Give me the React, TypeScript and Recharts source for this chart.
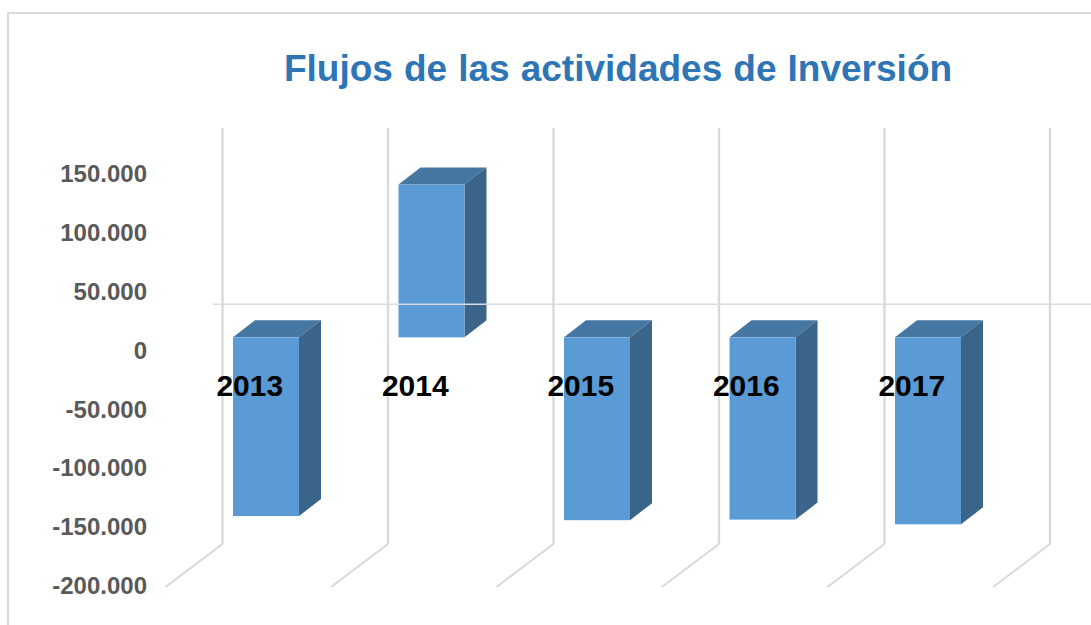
import React from 'react';
import { BarChart, Bar, XAxis, YAxis, CartesianGrid, ReferenceLine } from 'recharts';

const YEARS = ['2013', '2014', '2015', '2016', '2017'];
const FLOWS = [-152000, 130000, -155500, -155000, -159000];
const Y_TICKS = [150000, 100000, 50000, 0, -50000, -100000, -150000, -200000];
const TITLE = 'Flujos de las actividades de Inversión';

const data = YEARS.map((year, i) => ({ year, flow: FLOWS[i] }));

const FONT = '"Liberation Sans", Arial, sans-serif';
const DEPTH_X = 22;
const DEPTH_Y = 17;

const formatThousands = (v: number) => String(v).replace(/\B(?=(\d{3})+$)/g, '.');

// 3D column: front face comes from the scale, top and side are offset by the depth
const Column3D = (props: any) => {
  const { x, y, width, height } = props;
  const top = Math.min(y, y + height);
  const h = Math.abs(height);
  const right = x + width;
  const bottom = top + h;
  return (
    <g>
      <polygon
        points={`${x},${top} ${x + DEPTH_X},${top - DEPTH_Y} ${right + DEPTH_X},${top - DEPTH_Y} ${right},${top}`}
        fill="#4676a2"
      />
      <polygon
        points={`${right},${top} ${right + DEPTH_X},${top - DEPTH_Y} ${right + DEPTH_X},${bottom - DEPTH_Y} ${right},${bottom}`}
        fill="#3a6489"
      />
      <rect x={x} y={top} width={width} height={h} fill="#5b9bd5" />
    </g>
  );
};

const YTick = (props: any) => (
  <text
    x={147}
    y={props.y + 13}
    dy="0.35em"
    textAnchor="end"
    fontFamily={FONT}
    fontWeight="bold"
    fontSize={24}
    fill="#595959"
  >
    {formatThousands(props.payload.value)}
  </text>
);

const XTick = (props: any) => (
  <text
    x={props.x - 16}
    y={props.y - 195}
    dy="0.35em"
    textAnchor="middle"
    fontFamily={FONT}
    fontWeight="bold"
    fontSize={30}
    fill="#000000"
  >
    {props.payload.value}
  </text>
);

// back wall line with the floor diagonal running to the front
const WallLine = (props: any) => {
  const { x1 } = props;
  return (
    <g fill="none" stroke="#d9d9d9" strokeWidth={2.4}>
      <line x1={x1} y1={128} x2={x1} y2={544} />
      <line x1={x1} y1={544} x2={x1 - 57} y2={587} strokeWidth={2} />
    </g>
  );
};

const ZeroLine = (props: any) => (
  <line x1={213} y1={props.y1 - 33} x2={1091} y2={props.y1 - 33} stroke="#d6dce5" strokeWidth={1.5} />
);

export default function App() {
  return (
    <div style={{ position: 'absolute', left: 0, top: 0, width: 1091, height: 625, overflow: 'hidden', background: '#fff' }}>
      <div style={{ position: 'absolute', left: 7, top: 12, width: 1084, height: 613, borderLeft: '2px solid #d9d9d9', borderTop: '2px solid #d9d9d9' }} />
      <BarChart
        width={1091}
        height={625}
        data={data}
        margin={{ top: 161, right: 80.5, bottom: 0, left: 0 }}
        barCategoryGap={0}
        style={{ position: 'absolute', left: 0, top: 0 }}
      >
        <text x={618} y={81} textAnchor="middle" fontFamily={FONT} fontWeight="bold" fontSize={37} wordSpacing={0.8} fill="#2e75b6">
          {TITLE}
        </text>
        <CartesianGrid
          horizontal={false}
          vertical={WallLine}
          verticalCoordinatesGenerator={({ offset }: any) =>
            [0, 1, 2, 3, 4, 5].map(i => offset.left + 39.5 + (i * offset.width) / YEARS.length)
          }
        />
        <XAxis dataKey="year" height={52.5} axisLine={false} tickLine={false} tick={XTick} interval={0} />
        <YAxis
          width={183}
          domain={[-200000, 150000]}
          ticks={Y_TICKS}
          axisLine={false}
          tickLine={false}
          tick={YTick}
          interval={0}
        />
        <Bar dataKey="flow" barSize={66} shape={Column3D} isAnimationActive={false} />
        <ReferenceLine y={0} shape={ZeroLine} />
      </BarChart>
    </div>
  );
}
